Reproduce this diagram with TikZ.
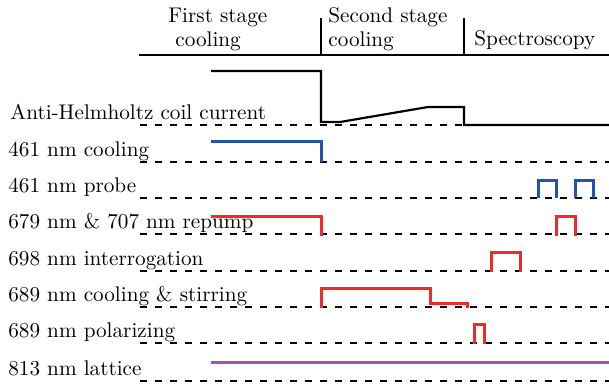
\documentclass[tikz,border=0pt]{standalone}
\definecolor{sigblue}{RGB}{34,85,165}
\definecolor{sigred}{RGB}{238,42,42}
\definecolor{sigpurple}{RGB}{160,85,160}
\begin{document}
\begin{tikzpicture}[x=0.5pt,y=-0.5pt, font=\fontsize{10.6}{12.7}\selectfont,
  lbl/.style={anchor=base west, inner sep=0pt},
  baseline line/.style={black, line width=1pt, dash pattern=on 3.5pt off 4pt},
  blk/.style={black, line width=1.1pt},
  sig/.style={line width=1.5pt}]
\useasboundingbox (0,0) rectangle (609,387);
% header
\node[lbl] (h1a) at (168,22.5) {First stage};
\node[lbl] (h1b) at (175,46) {cooling};
\node[lbl] (h2a) at (328,22.5) {Second stage};
\node[lbl] (h2b) at (328,46) {cooling};
\node[lbl] (h3) at (474,45.5) {Spectroscopy};
\draw[blk] (139,55) -- (609,55);
\draw[blk] (321,18) -- (321,55);
\draw[blk] (464,18) -- (464,55);
% coil
\node[lbl] (l0) at (10,119) {Anti-Helmholtz coil current};
\draw[baseline line] (140,125) -- (464,125);
\draw[blk] (211,71) -- (321,71) -- (321,122) -- (340,122) -- (428,107) -- (464,107) -- (464,125) -- (609,125);
% rows
\node[lbl] (l1) at (8,156) {461 nm cooling};
\node[lbl] (l2) at (8,192) {461 nm probe};
\node[lbl] (l3) at (8,228) {679 nm \& 707 nm repump};
\node[lbl] (l4) at (8,265) {698 nm interrogation};
\node[lbl] (l5) at (8,301) {689 nm cooling \& stirring};
\node[lbl] (l6) at (8,337) {689 nm polarizing};
\node[lbl] (l7) at (8,375) {813 nm lattice};
\foreach \yy in {162,198,234,271,307,343,381}
  \draw[baseline line] (140,\yy) -- (609,\yy);
% signals
\draw[sig, sigblue] (211,141) -- (321,141) -- (321,162);
\draw[sig, sigblue] (538,198) -- (538,180) -- (556,180) -- (556,198);
\draw[sig, sigblue] (575,198) -- (575,180) -- (593,180) -- (593,198);
\draw[sig, sigred] (211,216) -- (321,216) -- (321,236);
\draw[sig, sigred] (556,236) -- (556,216) -- (575,216) -- (575,236);
\draw[sig, sigred] (491,272) -- (491,252) -- (520,252) -- (520,272);
\draw[sig, sigred] (321,308) -- (321,288) -- (430,288) -- (430,303) -- (467,303) -- (467,308);
\draw[sig, sigred] (474,344) -- (474,324) -- (484,324) -- (484,344);
\draw[sig, sigpurple] (211,362) -- (609,362);
\end{tikzpicture}
\end{document}
